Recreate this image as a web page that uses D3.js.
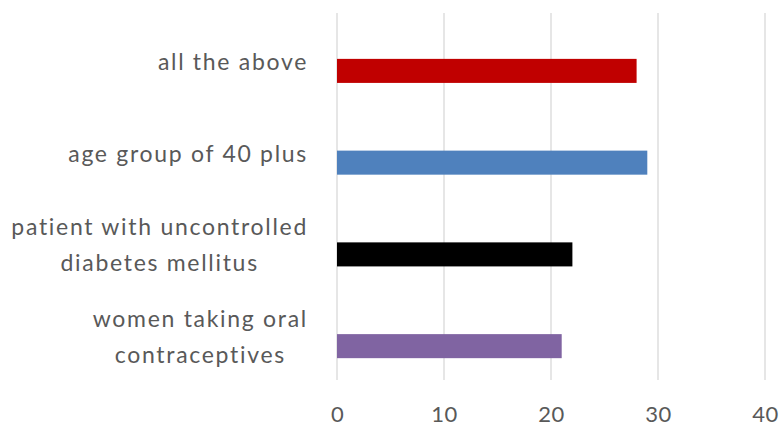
<!DOCTYPE html>
<html><head><meta charset="utf-8">
<script src="https://cdn.jsdelivr.net/npm/d3@7"></script>
<style>html,body{margin:0;padding:0;background:#fff;}</style>
</head><body>
<svg id="chart" width="781" height="427"></svg>
<script>
const categories = ["all the above", "age group of 40 plus", "patient with uncontrolled diabetes mellitus", "women taking oral contraceptives"];
const labelLines = [["all the above"], ["age group of 40 plus"], ["patient with uncontrolled", "diabetes mellitus"], ["women taking oral", "contraceptives"]];
const values = [28, 29, 22, 21];
const barColors = ["#c00000", "#4f81bd", "#000000", "#8064a2"];
const xTicks = [0, 10, 20, 30, 40];

const svg = d3.select("#chart");
const plot = {left: 337, right: 765, top: 13, bottom: 380};
const x = d3.scaleLinear().domain([0, 40]).range([plot.left, plot.right]);
const y = d3.scaleBand().domain(categories).range([plot.top, plot.bottom]);
const fontFamily = "Lato, 'Open Sans', sans-serif";
const fontSize = 23;
const textColor = "#595959";

// gridlines
svg.append("g").selectAll("line").data(xTicks).join("line")
  .attr("x1", d => x(d)).attr("x2", d => x(d))
  .attr("y1", plot.top).attr("y2", plot.bottom)
  .attr("stroke", "#d9d9d9").attr("stroke-width", 1.3);

// bars: top edge at band centre (second slot of a 2-series cluster)
const barH = y.bandwidth() * 0.262;
svg.append("g").selectAll("rect").data(categories).join("rect")
  .attr("x", x(0))
  .attr("y", d => y(d) + y.bandwidth() / 2)
  .attr("width", (d, i) => x(values[i]) - x(0))
  .attr("height", barH)
  .attr("fill", (d, i) => barColors[i]);

// x axis tick labels
const xAxis = d3.axisBottom(x).tickValues(xTicks).tickSize(0).tickPadding(0);
const gx = svg.append("g").attr("transform", `translate(0, ${plot.bottom})`).call(xAxis);
gx.select(".domain").remove();
gx.selectAll("text").attr("font-family", fontFamily).attr("font-size", 22)
  .attr("letter-spacing", "0.5px")
  .attr("fill", textColor).attr("dy", null).attr("y", 42);

// category labels
const lineGap = 36;
const lblG = svg.append("g");
categories.forEach((c, i) => {
  const lines = labelLines[i];
  const cy = y(c) + y.bandwidth() / 2 + 2;
  const g = lblG.append("g");
  const texts = lines.map((ln, j) => g.append("text")
    .text(ln)
    .attr("font-family", fontFamily).attr("font-size", fontSize)
    .attr("letter-spacing", "1.7px")
    .attr("fill", textColor)
    .attr("text-anchor", "middle")
    .attr("dominant-baseline", "central")
    .attr("y", cy + (j - (lines.length - 1) / 2) * lineGap));
  const w = d3.max(texts, t => t.node().getComputedTextLength());
  texts.forEach(t => t.attr("x", 308 - w / 2));
});
</script>
</body></html>
